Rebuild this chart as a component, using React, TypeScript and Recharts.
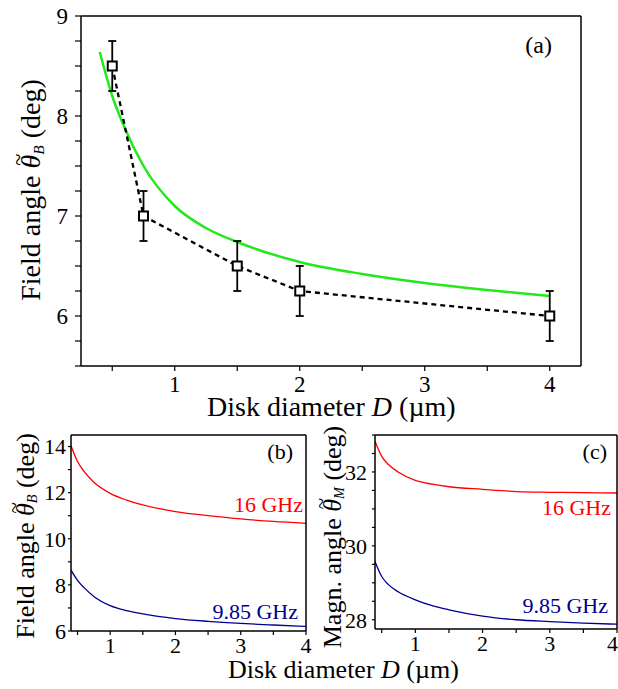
import { ComposedChart, Line, Scatter, ErrorBar, XAxis, YAxis } from 'recharts'

// measured field angle, panel (a)
const measuredD = [0.5, 0.75, 1.5, 2, 4]
const measuredAngle = [8.5, 7.0, 6.5, 6.25, 6.0]
const measuredErr = [0.25, 0.25, 0.25, 0.25, 0.25]

// calculated curves
const curveD = [0.4, 0.5, 0.6, 0.75, 1.0, 1.25, 1.5, 2.0, 2.5, 3.0, 3.5, 4.0]
const fieldAngle985 = [8.64, 8.2, 7.88, 7.5, 7.1, 6.88, 6.74, 6.54, 6.42, 6.33, 6.26, 6.2]
const fieldAngle16 = [14.03, 13.35, 12.92, 12.45, 11.97, 11.68, 11.47, 11.18, 11.0, 10.86, 10.75, 10.67]
const magnAngle985 = [29.58, 29.17, 28.95, 28.75, 28.54, 28.38, 28.27, 28.1, 28.0, 27.95, 27.91, 27.88]
const magnAngle16 = [32.83, 32.42, 32.2, 31.99, 31.77, 31.67, 31.6, 31.53, 31.47, 31.45, 31.44, 31.43]

const ticksX = [0.5, 1, 1.5, 2, 2.5, 3, 3.5, 4]
const ticksYa = [5.5, 5.75, 6, 6.25, 6.5, 6.75, 7, 7.25, 7.5, 7.75, 8, 8.25, 8.5, 8.75, 9]
const ticksYb = [6, 7, 8, 9, 10, 11, 12, 13, 14]
const ticksYc = [28, 28.5, 29, 29.5, 30, 30.5, 31, 31.5, 32, 32.5, 33]

const measured = measuredD.map((d, i) => ({ d, v: measuredAngle[i], err: measuredErr[i] }))
const toRows = (ys: number[]) => curveD.map((d, i) => ({ d, v: ys[i] }))

const serif = '"Liberation Serif", "Times New Roman", serif'
const tickA = { fontFamily: serif, fontSize: 23, fill: '#000' }
const tickBC = { fontFamily: serif, fontSize: 22, fill: '#000' }
const axisLine = { stroke: '#000', strokeWidth: 1.5 }
const tickLine = { stroke: '#000', strokeWidth: 1.2 }
const intOnly = (v: number) => (Number.isInteger(v) ? String(v) : '')
const evenOnly = (v: number) => (Number.isInteger(v) && v % 2 === 0 ? String(v) : '')

const Square = (props: any) => {
  const { cx, cy } = props
  if (cx == null || cy == null) return null
  return <rect x={cx - 4.5} y={cy - 4.5} width={9} height={9} fill="#fff" stroke="#000" strokeWidth={2} />
}

// text placed by its baseline; tight line box so neighbouring labels don't collide
const LH = 0.7
function Txt({ left, right, base, size, color = '#000', children }: any) {
  return (
    <div
      style={{
        position: 'absolute',
        left,
        right,
        top: base - (0.3375 + LH / 2) * size,
        fontSize: size,
        lineHeight: LH,
        color,
        whiteSpace: 'nowrap',
      }}
    >
      {children}
    </div>
  )
}

function VLabel({ cx, cy, size, children }: any) {
  return (
    <div
      style={{
        position: 'absolute',
        left: cx,
        top: cy,
        fontSize: size,
        lineHeight: 1,
        whiteSpace: 'nowrap',
        transform: 'translate(-50%, -50%) rotate(-90deg)',
      }}
    >
      {children}
    </div>
  )
}

const Theta = ({ sub }: { sub: string }) => (
  <>
    <span style={{ position: 'relative', display: 'inline-block' }}>
      <i>θ</i>
      <span style={{ position: 'absolute', left: '0.12em', top: '-0.42em', fontSize: '0.8em' }}>~</span>
    </span>
    <sub style={{ fontSize: '0.55em', fontStyle: 'italic', verticalAlign: '-0.25em' }}>{sub}</sub>
  </>
)

export default function App() {
  return (
    <div style={{ position: 'absolute', left: 0, top: 0, width: 618, height: 689, background: '#fff', fontFamily: serif }}>
      {/* (a) */}
      <div style={{ position: 'absolute', left: 0, top: 0 }}>
        <ComposedChart width={618} height={420} margin={{ top: 15, right: 36, bottom: 24, left: 0 }}>
          <XAxis type="number" dataKey="d" domain={[0.25, 4.25]} ticks={ticksX} tickFormatter={intOnly}
            allowDataOverflow height={30} tickSize={5} tickMargin={5} tick={tickA} axisLine={axisLine} tickLine={tickLine} />
          <XAxis xAxisId="top" orientation="top" type="number" dataKey="d" domain={[0.25, 4.25]} allowDataOverflow
            height={1} tick={false} tickLine={false} axisLine={axisLine} />
          <YAxis type="number" domain={[5.5, 9]} ticks={ticksYa} tickFormatter={intOnly} allowDataOverflow width={81}
            tickSize={6} tickMargin={7} tick={tickA} axisLine={axisLine} tickLine={tickLine} />
          <YAxis yAxisId="right" orientation="right" type="number" domain={[5.5, 9]} allowDataOverflow width={1}
            tick={false} tickLine={false} axisLine={axisLine} />
          <Line data={toRows(fieldAngle985)} xAxisId="top" yAxisId="right" dataKey="v" type="monotone" stroke="#22e81c"
            strokeWidth={2.5} dot={false} isAnimationActive={false} />
          <Line data={measured} dataKey="v" type="linear" stroke="#000" strokeWidth={2.3} strokeDasharray="5 4" dot={false}
            isAnimationActive={false} />
          <Scatter data={measured} dataKey="v" shape={Square} isAnimationActive={false}>
            <ErrorBar dataKey="err" direction="y" width={4} stroke="#000" strokeWidth={1.8} />
          </Scatter>
        </ComposedChart>
      </div>

      {/* (b) */}
      <div style={{ position: 'absolute', left: 0, top: 420 }}>
        <ComposedChart width={320} height={269} margin={{ top: 14, right: 13, bottom: 28, left: 0 }}>
          <XAxis type="number" dataKey="d" domain={[0.4, 4]} ticks={ticksX} tickFormatter={intOnly} allowDataOverflow
            height={30} tickSize={4} tickMargin={2} tick={tickBC} axisLine={axisLine} tickLine={tickLine} />
          <XAxis xAxisId="top" orientation="top" type="number" dataKey="d" domain={[0.4, 4]} allowDataOverflow height={1}
            tick={false} tickLine={false} axisLine={axisLine} />
          <YAxis type="number" domain={[6, 14.5]} ticks={ticksYb} tickFormatter={evenOnly} allowDataOverflow width={71}
            tickSize={3} tickMargin={2} tick={tickBC} axisLine={axisLine} tickLine={tickLine} />
          <YAxis yAxisId="right" orientation="right" type="number" domain={[6, 14.5]} ticks={ticksYb} allowDataOverflow
            width={1} tickSize={3} tick={false} axisLine={axisLine} tickLine={tickLine} />
          <Line data={toRows(fieldAngle16)} xAxisId="top" yAxisId="right" dataKey="v" type="monotone" stroke="#ff0000"
            strokeWidth={1.3} dot={false} isAnimationActive={false} />
          <Line data={toRows(fieldAngle985)} dataKey="v" type="monotone" stroke="#000090" strokeWidth={1.3} dot={false}
            isAnimationActive={false} />
        </ComposedChart>
      </div>

      {/* (c) */}
      <div style={{ position: 'absolute', left: 300, top: 420 }}>
        <ComposedChart width={318} height={269} margin={{ top: 14, right: 0, bottom: 30, left: 0 }}>
          <XAxis type="number" dataKey="d" domain={[0.4, 4]} ticks={ticksX} tickFormatter={intOnly} allowDataOverflow
            height={30} tickSize={4} tickMargin={2} tick={tickBC} axisLine={axisLine} tickLine={tickLine} />
          <XAxis xAxisId="top" orientation="top" type="number" dataKey="d" domain={[0.4, 4]} allowDataOverflow height={1}
            tick={false} tickLine={false} axisLine={axisLine} />
          <YAxis type="number" domain={[27.75, 33]} ticks={ticksYc} tickFormatter={evenOnly} allowDataOverflow width={75}
            tickSize={3} tickMargin={5} tick={tickBC} axisLine={axisLine} tickLine={tickLine} />
          <YAxis yAxisId="right" orientation="right" type="number" domain={[27.75, 33]} ticks={ticksYc} allowDataOverflow
            width={1} tickSize={3} tick={false} axisLine={axisLine} tickLine={tickLine} />
          <Line data={toRows(magnAngle16)} xAxisId="top" yAxisId="right" dataKey="v" type="monotone" stroke="#ff0000"
            strokeWidth={1.3} dot={false} isAnimationActive={false} />
          <Line data={toRows(magnAngle985)} dataKey="v" type="monotone" stroke="#000090" strokeWidth={1.3} dot={false}
            isAnimationActive={false} />
        </ComposedChart>
      </div>

      {/* titles and labels */}
      <VLabel cx={32} cy={190} size={28}>Field angle <Theta sub="B" /> (deg)</VLabel>
      <Txt left={207} base={416} size={28}>Disk diameter <i>D</i> (µm)</Txt>
      <Txt right={618 - 552} base={53} size={24}>(a)</Txt>

      <VLabel cx={26} cy={536} size={26}>Field angle <Theta sub="B" /> (deg)</VLabel>
      <Txt right={618 - 293} base={459} size={22}>(b)</Txt>
      <Txt right={618 - 303} base={512} size={22} color="#ff0000">16 GHz</Txt>
      <Txt right={618 - 298} base={619} size={22} color="#000090">9.85 GHz</Txt>

      <VLabel cx={333} cy={537} size={26}>Magn. angle <Theta sub="M" /> (deg)</VLabel>
      <Txt right={618 - 607} base={459} size={22}>(c)</Txt>
      <Txt right={618 - 611} base={515} size={22} color="#ff0000">16 GHz</Txt>
      <Txt right={618 - 608} base={613} size={22} color="#000090">9.85 GHz</Txt>

      <Txt left={228} base={679} size={26}>Disk diameter <i>D</i> (µm)</Txt>
    </div>
  )
}
